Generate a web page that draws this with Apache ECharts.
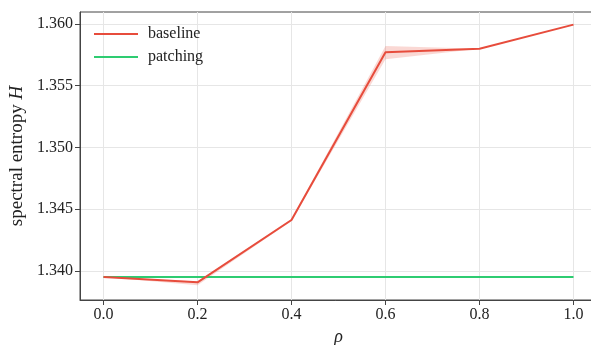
<!DOCTYPE html>
<html>
<head>
<meta charset="utf-8">
<script src="https://cdn.jsdelivr.net/npm/echarts@6/dist/echarts.min.js"></script>
<style>
  html, body { margin: 0; padding: 0; background: #fff; }
  #chart { width: 591px; height: 345px; }
</style>
</head>
<body>
<div id="chart"></div>
<script>
// rho values on the x axis
var rho = [0.0, 0.2, 0.4, 0.6, 0.8, 1.0];
// spectral entropy, mean of each run
var baseline = [1.33951, 1.33908, 1.34413, 1.35771, 1.35800, 1.35995];
var baselineLow = [1.33951, 1.33885, 1.34405, 1.35714, 1.35800, 1.35995];
var baselineHigh = [1.33951, 1.33915, 1.34420, 1.35822, 1.35800, 1.35995];
var patching = [1.33951, 1.33951, 1.33951, 1.33951, 1.33951, 1.33951];
// tick labels
var xTicks = [0.0, 0.2, 0.4, 0.6, 0.8, 1.0];
var yTicks = [1.340, 1.345, 1.350, 1.355, 1.360];

var RED = '#e74c3c';
var GREEN = '#2ecc71';
var FONT = '"Liberation Serif", "DejaVu Serif", serif';

function pairs(xs, ys) {
  var out = [];
  for (var i = 0; i < xs.length; i++) out.push([xs[i], ys[i]]);
  return out;
}

// shaded spread around baseline, drawn once as a polygon
function renderBand(params, api) {
  if (params.dataIndex !== 0) return null;
  var pts = [];
  for (var i = 0; i < rho.length; i++) pts.push(api.coord([rho[i], baselineHigh[i]]));
  for (var j = rho.length - 1; j >= 0; j--) pts.push(api.coord([rho[j], baselineLow[j]]));
  return {
    type: 'polygon',
    shape: { points: pts },
    style: { fill: RED, opacity: 0.22 },
    silent: true
  };
}

var chart = echarts.init(document.getElementById('chart'), null, { renderer: 'canvas' });

var option = {
  animation: false,
  backgroundColor: '#fff',
  textStyle: { fontFamily: FONT },
  grid: {
    left: 80, top: 12, width: 517, height: 288,
    outerBoundsMode: 'none',
    show: true, borderColor: '#444', borderWidth: 1
  },
  legend: {
    data: ['baseline', 'patching'],
    orient: 'vertical',
    left: 89, top: 21,
    icon: 'rect',
    itemWidth: 44, itemHeight: 2,
    itemGap: 7,
    textStyle: { fontFamily: FONT, fontSize: 16, color: '#222', padding: [0, 0, 0, 5] }
  },
  xAxis: {
    type: 'value',
    min: -0.05, max: 1.05,
    name: 'ρ',
    nameLocation: 'middle',
    nameGap: 27,
    nameTextStyle: { fontFamily: FONT, fontSize: 18, fontStyle: 'italic', color: '#222' },
    axisLine: { show: true, onZero: false, lineStyle: { color: '#444' } },
    axisTick: { show: true, length: 5, lineStyle: { color: '#444' }, customValues: xTicks },
    axisLabel: {
      customValues: xTicks, fontFamily: FONT, fontSize: 16, color: '#222', margin: 7,
      formatter: function (v) { return v.toFixed(1); }
    },
    splitLine: { show: true, lineStyle: { color: '#e6e6e6' } }
  },
  yAxis: {
    type: 'value',
    min: 1.33765, max: 1.36097,
    name: '{n|spectral entropy }{h|H}',
    nameLocation: 'middle',
    nameGap: 46,
    nameTextStyle: {
      rich: {
        n: { fontFamily: FONT, fontSize: 19, color: '#222' },
        h: { fontFamily: FONT, fontSize: 19, fontStyle: 'italic', color: '#222' }
      }
    },
    axisLine: { show: true, onZero: false, lineStyle: { color: '#444' } },
    axisTick: { show: true, length: 5, lineStyle: { color: '#444' }, customValues: yTicks },
    axisLabel: {
      customValues: yTicks, fontFamily: FONT, fontSize: 16, color: '#222', margin: 7,
      formatter: function (v) { return v.toFixed(3); }
    },
    splitLine: { show: true, lineStyle: { color: '#e6e6e6' } }
  },
  series: [
    {
      name: 'band',
      type: 'custom',
      renderItem: renderBand,
      data: pairs(rho, baselineLow),
      silent: true,
      z: 1
    },
    {
      name: 'patching',
      type: 'line',
      data: pairs(rho, patching),
      symbol: 'none',
      color: GREEN,
      lineStyle: { color: GREEN, width: 2 },
      z: 2
    },
    {
      name: 'baseline',
      type: 'line',
      data: pairs(rho, baseline),
      symbol: 'none',
      color: RED,
      lineStyle: { color: RED, width: 2 },
      z: 3
    }
  ]
};

chart.setOption(option);
</script>
</body>
</html>
